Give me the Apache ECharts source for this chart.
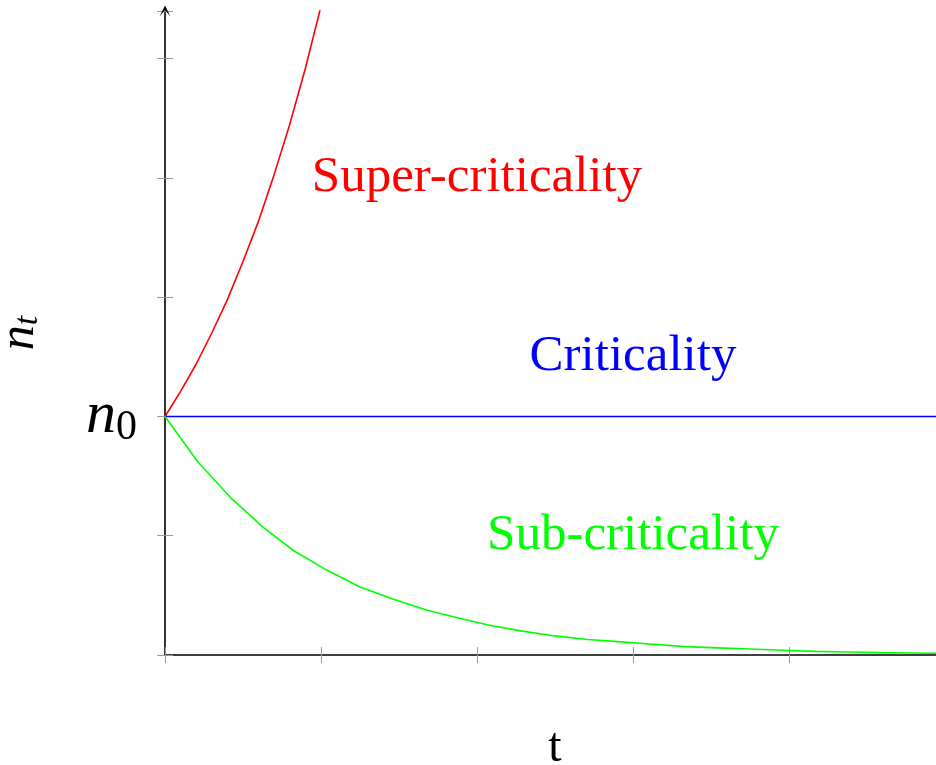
<!DOCTYPE html>
<html>
<head>
<meta charset="utf-8">
<script src="https://cdn.jsdelivr.net/npm/echarts@6/dist/echarts.min.js"></script>
<style>
  html, body { margin: 0; padding: 0; background: #fff; }
  #chart { width: 936px; height: 765px; }
</style>
</head>
<body>
<div id="chart"></div>
<script>
// values
const redT = [0, 0.1, 0.2, 0.3, 0.4, 0.5, 0.6, 0.7, 0.8, 0.9, 1.0];
const redN = [2.00, 2.21, 2.44, 2.70, 2.98, 3.30, 3.64, 4.03, 4.45, 4.92, 5.44];

const greenT = [0, 0.21, 0.42, 0.63, 0.83, 1.04, 1.25, 1.46, 1.67, 1.88, 2.08, 2.29, 2.5,
  2.71, 2.92, 3.13, 3.33, 3.54, 3.75, 3.96, 4.17, 4.38, 4.58, 4.79, 5.0];
const greenN = [2.00, 1.62, 1.32, 1.07, 0.87, 0.71, 0.57, 0.47, 0.38, 0.31, 0.25, 0.20, 0.16,
  0.13, 0.11, 0.09, 0.07, 0.06, 0.05, 0.04, 0.03, 0.025, 0.02, 0.017, 0.013];

const blueT = [0, 5];
const blueN = [2, 2];

const noteText = ['Super-criticality', 'Criticality', 'Sub-criticality'];
const noteT = [2, 3, 3];
const noteN = [4, 2.5, 1];
const noteColor = ['#ff0000', '#0000ff', '#00ff00'];

const yTickLabels = { 2: '{n|n}{s|0}' };

const serif = 'Liberation Serif';
const pair = (xs, ys) => xs.map((x, i) => [x, ys[i]]);

const chart = echarts.init(document.getElementById('chart'));

const tickStyle = { color: '#999', width: 1 };
const arrow = 'path://M5,0 L10,10 L5,4 L0,10 Z';

chart.setOption({
  animation: false,
  grid: { left: 165, top: 11, width: 780, height: 644, containLabel: false, outerBoundsMode: 'none' },
  xAxis: [
    {
      type: 'value', min: 0, max: 5, interval: 1,
      name: 't', nameLocation: 'middle', nameGap: 69,
      nameTextStyle: { fontFamily: serif, fontSize: 48, color: '#000' },
      axisLine: { show: true, symbol: ['none', arrow], symbolSize: [12, 11],
        lineStyle: { color: '#000', width: 1.6 } },
      axisTick: { show: true, length: 8, lineStyle: tickStyle },
      axisLabel: { show: false },
      splitLine: { show: false }
    },
    {
      type: 'value', min: 0, max: 5, interval: 1, position: 'bottom',
      axisLine: { show: false },
      axisTick: { show: true, inside: true, length: 8, lineStyle: tickStyle },
      axisLabel: { show: false },
      splitLine: { show: false }
    }
  ],
  yAxis: [
    {
      type: 'value', min: 0, max: 5.4, interval: 1,
      name: '{n|n}{s|t}', nameLocation: 'middle', nameRotate: 90, nameGap: 120,
      nameTextStyle: {
        rich: {
          n: { fontFamily: serif, fontStyle: 'italic', fontSize: 50, color: '#000' },
          s: { fontFamily: serif, fontStyle: 'italic', fontSize: 34, color: '#000', padding: [16, 0, 0, 0] }
        }
      },
      axisLine: { show: true, symbol: ['none', arrow], symbolSize: [12, 11],
        lineStyle: { color: '#000', width: 1.6 } },
      axisTick: { show: true, length: 8, lineStyle: tickStyle },
      axisLabel: {
        margin: 28,
        formatter: v => yTickLabels[v] || '',
        rich: {
          n: { fontFamily: serif, fontStyle: 'italic', fontSize: 60, color: '#000' },
          s: { fontFamily: serif, fontSize: 42, color: '#000', padding: [22, 0, 0, 0] }
        }
      },
      splitLine: { show: false }
    },
    {
      type: 'value', min: 0, max: 5.4, interval: 1, position: 'left',
      axisLine: { show: false },
      axisTick: { show: true, inside: true, length: 8, lineStyle: tickStyle },
      axisLabel: { show: false },
      splitLine: { show: false }
    }
  ],
  series: [
    {
      type: 'line', data: pair(redT, redN), showSymbol: false,
      lineStyle: { color: '#ff0000', width: 1.6 }
    },
    {
      type: 'line', data: pair(blueT, blueN), showSymbol: false,
      lineStyle: { color: '#0000ff', width: 1.6 }
    },
    {
      type: 'line', data: pair(greenT, greenN), showSymbol: false,
      lineStyle: { color: '#00ff00', width: 1.6 }
    },
    {
      type: 'scatter', symbolSize: 0, itemStyle: { opacity: 1 },
      data: noteText.map((s, i) => ({
        value: [noteT[i], noteN[i]],
        label: {
          show: true, position: 'inside', formatter: s,
          fontFamily: serif, fontSize: 51, color: noteColor[i]
        }
      }))
    }
  ]
});
</script>
</body>
</html>
